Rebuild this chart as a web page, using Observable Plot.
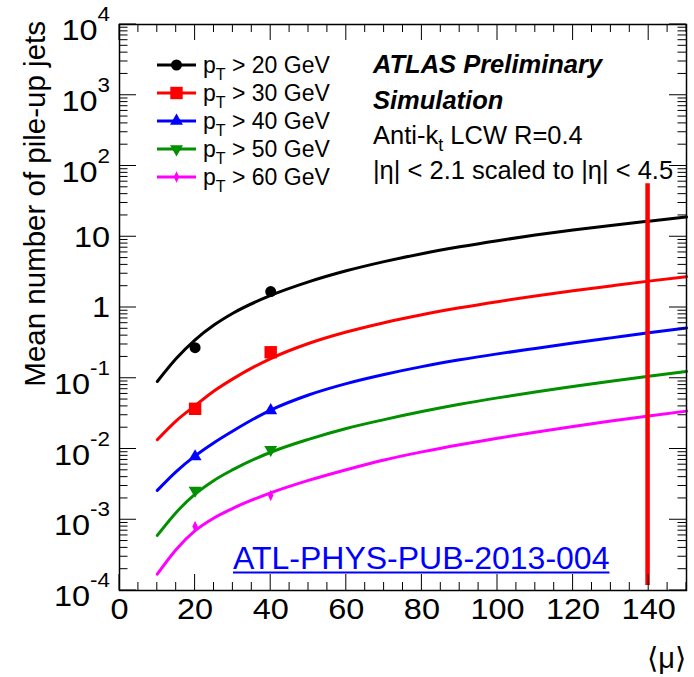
<!DOCTYPE html>
<html><head><meta charset="utf-8">
<script src="https://cdn.jsdelivr.net/npm/d3@7"></script>
<script src="https://cdn.jsdelivr.net/npm/@observablehq/plot@0.6"></script>
<style>body{margin:0;background:#fff} svg{display:block}</style>
</head><body><div id="chart"></div>
<script>
// ---------- data ----------
const mu = [10, 15, 20, 25, 30, 40, 50, 60, 70, 80, 90, 100, 110, 120, 130, 140, 150];
const curvePt20 = [0.09, 0.19, 0.35, 0.565, 0.83, 1.48, 2.3, 3.3, 4.45, 5.75, 7.2, 8.8, 10.55, 12.45, 14.45, 16.6, 19.0];
const curvePt30 = [0.0135, 0.025, 0.041, 0.066, 0.098, 0.19, 0.31, 0.45, 0.61, 0.79, 0.99, 1.21, 1.45, 1.72, 2.02, 2.36, 2.72];
const curvePt40 = [0.0026, 0.0048, 0.008, 0.0123, 0.018, 0.0355, 0.058, 0.084, 0.113, 0.146, 0.182, 0.221, 0.264, 0.314, 0.372, 0.44, 0.515];
const curvePt50 = [0.0006, 0.00127, 0.0023, 0.0036, 0.0051, 0.009, 0.0137, 0.0195, 0.026, 0.0338, 0.0428, 0.0528, 0.064, 0.0765, 0.091, 0.107, 0.125];
const curvePt60 = [0.00017, 0.00038, 0.0007, 0.00106, 0.00145, 0.0024, 0.0036, 0.0051, 0.007, 0.0091, 0.0115, 0.0142, 0.0173, 0.0208, 0.0248, 0.0293, 0.0343];

const pointMu = [20, 40];
const pointsPt20 = [0.27, 1.68];
const pointsPt30 = [0.037, 0.233];
const pointsPt40 = [0.0078, 0.035];
const pointsPt50 = [0.0026, 0.0098];
const pointsPt60 = [0.0008, 0.0022];

const thresholds = ["20", "30", "40", "50", "60"];
const seriesColors = ["#000000", "#ff0000", "#0000ff", "#009000", "#ff00ff"];

const redLineMu = 139.7;
const redLineLow = 1.18e-4;
const redLineHigh = 56;

const xTickValues = [0, 20, 40, 60, 80, 100, 120, 140];
const yTickValues = [1e-4, 1e-3, 1e-2, 1e-1, 1, 10, 1e2, 1e3, 1e4];
const yTickBases = ["10", "10", "10", "10", "1", "10", "10", "10", "10"];
const yTickExps = ["-4", "-3", "-2", "-1", "", "", "2", "3", "4"];

const yTitle = "Mean number of pile-up jets";
const xTitle = "\u27E8\u03BC\u27E9";
const atlasLines = ["ATLAS Preliminary", "Simulation"];
const infoLine1 = ["Anti-k", "t", " LCW R=0.4"];
const infoLine2 = "|\u03B7| < 2.1 scaled to |\u03B7| < 4.5";
const refText = "ATL-PHYS-PUB-2013-004";

// ---------- build marks ----------
const curveSets = [curvePt20, curvePt30, curvePt40, curvePt50, curvePt60];
const pointSets = [pointsPt20, pointsPt30, pointsPt40, pointsPt50, pointsPt60];

const thinDiamond = {
  draw(ctx, size) {
    const r = Math.sqrt(size / Math.PI);
    ctx.moveTo(0, -r * 1.3); ctx.lineTo(r * 0.6, 0); ctx.lineTo(0, r * 1.3); ctx.lineTo(-r * 0.6, 0); ctx.closePath();
  }
};
const symbols = ["circle", "square", "triangle", "triangle", thinDiamond];
const rotations = [0, 0, 0, 180, 0];
const radii = [5.5, 7, 4.8, 4.8, 4.5];

const W = 694, H = 677, ML = 119, MR = 8, MT = 24, MB = 87;
const FONT = "'Liberation Sans', Arial, Helvetica, sans-serif";
const STRETCH = 1.12;

const xMinor = d3.range(0, 151, 5).filter(v => v % 20 !== 0);
const yMinor = [];
for (let e = -4; e < 4; e++) for (let k = 2; k <= 9; k++) yMinor.push(k * Math.pow(10, e));

const marks = [];
curveSets.forEach((vals, s) => {
  const rows = mu.map((m, i) => ({mu: m, v: vals[i]}));
  marks.push(Plot.line(rows, {x: "mu", y: "v", stroke: seriesColors[s], strokeWidth: 3, curve: "monotone-x"}));
});
pointSets.forEach((vals, s) => {
  const rows = pointMu.map((m, i) => ({mu: m, v: vals[i]}));
  marks.push(Plot.dot(rows, {x: "mu", y: "v", fill: seriesColors[s], stroke: "none", symbol: symbols[s], r: radii[s], rotate: rotations[s]}));
});
marks.push(Plot.ruleX([redLineMu], {x: d => d, y1: redLineLow, y2: redLineHigh, stroke: "#ff0000", strokeWidth: 4.5}));
marks.push(
  Plot.frame({stroke: "black", strokeWidth: 1.5}),
  Plot.axisX(xTickValues, {tickSize: 0, tickPadding: 8, label: null, fontSize: 29})
);

const chart = Plot.plot({
  width: W, height: H,
  marginLeft: ML, marginRight: MR, marginTop: MT, marginBottom: MB,
  x: {domain: [0, 150]},
  y: {type: "log", domain: [1e-4, 1e4], axis: null},
  style: {fontFamily: FONT, fontSize: "29px", background: "white", color: "black"},
  marks
});
document.getElementById("chart").appendChild(chart);

// widen x tick labels slightly (the reference font is wider), about each label's centre
const svg = d3.select(chart);
svg.selectAll('g[aria-label="x-axis tick label"] text').each(function () {
  const bb = this.getBBox();
  const ctm = this.getAttribute("transform") || "";
  // centre in the text's own coordinates
  const cx = bb.x + bb.width / 2;
  this.setAttribute("transform", `${ctm} translate(${cx},0) scale(${STRETCH},1) translate(${-cx},0)`);
});

// ---------- ROOT-style inward ticks (positions from Plot's scales) ----------
const xS = chart.scale("x");
const yS = chart.scale("y");
const L = ML, R = W - MR, T = MT, B = H - MB;
const tickG = svg.append("g").attr("stroke", "black").attr("stroke-width", 1);
function yTick(v, len) {
  const py = yS.apply(v);
  tickG.append("line").attr("x1", L).attr("x2", L + len).attr("y1", py).attr("y2", py);
  tickG.append("line").attr("x1", R - len).attr("x2", R).attr("y1", py).attr("y2", py);
}
function xTick(v, len) {
  const px = xS.apply(v);
  tickG.append("line").attr("x1", px).attr("x2", px).attr("y1", B).attr("y2", B - len);
  tickG.append("line").attr("x1", px).attr("x2", px).attr("y1", T).attr("y2", T + len);
}
yTickValues.forEach(v => yTick(v, 17));
yMinor.forEach(v => yTick(v, 8.5));
xTickValues.forEach(v => xTick(v, 16));
xMinor.forEach(v => xTick(v, 8));

// ---------- text layers ----------
const layer = svg.append("g").attr("font-family", FONT).attr("fill", "black").attr("text-anchor", "start");

yTickValues.forEach((v, i) => {
  const py = yS.apply(v);
  const hasExp = yTickExps[i] !== "";
  const t = layer.append("text")
    .attr("transform", `translate(110,${py + (hasExp ? 16 : 10.4)}) scale(${STRETCH},1)`)
    .attr("text-anchor", "end").attr("font-size", 29);
  t.append("tspan").text(yTickBases[i]);
  if (hasExp) t.append("tspan").attr("dy", -19).attr("font-size", 20).text(yTickExps[i]);
});

layer.append("text").attr("transform", "translate(45,21) rotate(-90)")
  .attr("text-anchor", "end").attr("font-size", 29.5).text(yTitle);
layer.append("text").attr("x", 686).attr("y", 668).attr("text-anchor", "end")
  .attr("font-size", 29).text(xTitle);

// legend
const legendY = [65, 93, 121, 149, 177];
thresholds.forEach((th, s) => {
  const ly = legendY[s];
  layer.append("line").attr("x1", 157).attr("x2", 196).attr("y1", ly).attr("y2", ly)
    .attr("stroke", seriesColors[s]).attr("stroke-width", 3);
  const sym = typeof symbols[s] === "string"
    ? (symbols[s] === "circle" ? d3.symbolCircle : symbols[s] === "square" ? d3.symbolSquare : d3.symbolTriangle)
    : symbols[s];
  layer.append("path").attr("d", d3.symbol(sym, Math.PI * radii[s] * radii[s])())
    .attr("transform", `translate(176.5,${ly}) rotate(${rotations[s]})`).attr("fill", seriesColors[s]);
  const t = layer.append("text").attr("x", 203).attr("y", ly + 7.5).attr("font-size", 23);
  t.append("tspan").text("p");
  t.append("tspan").attr("dy", 7).attr("font-size", 16).text("T");
  t.append("tspan").attr("dy", -7).text(` > ${th} GeV`);
});

// annotations
atlasLines.forEach((s, i) => {
  layer.append("text").attr("x", 373).attr("y", 73 + 36 * i).attr("font-size", 25.5)
    .attr("font-weight", "bold").attr("font-style", "italic").text(s);
});
const a1 = layer.append("text").attr("x", 373).attr("y", 144).attr("font-size", 25.5);
a1.append("tspan").text(infoLine1[0]);
a1.append("tspan").attr("dy", 7).attr("font-size", 18).text(infoLine1[1]);
a1.append("tspan").attr("dy", -7).text(infoLine1[2]);
layer.append("text").attr("x", 373).attr("y", 179).attr("font-size", 25.5).text(infoLine2);

// reference link
const ref = layer.append("text").attr("x", 233).attr("y", 569).attr("font-size", 32)
  .attr("fill", "#0000ff").text(refText);
const refLen = ref.node().getComputedTextLength();
layer.append("line").attr("x1", 233).attr("x2", 233 + refLen).attr("y1", 572.5).attr("y2", 572.5)
  .attr("stroke", "#0000ff").attr("stroke-width", 2);
</script>
</body></html>
